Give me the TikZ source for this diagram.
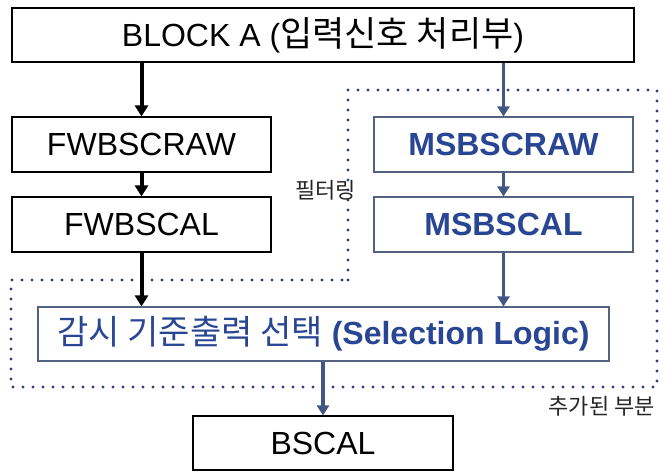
\documentclass[tikz,border=0pt]{standalone}
\usepackage{fontspec}
\setmainfont{Liberation Sans}
\newfontfamily\kr{Noto Sans CJK KR}
\usetikzlibrary{arrows.meta}
\definecolor{tblue}{RGB}{41,70,148}
\definecolor{bborder}{RGB}{84,98,130}
\definecolor{barrow}{RGB}{66,86,132}
\definecolor{dotc}{RGB}{47,64,128}
\begin{document}
\begin{tikzpicture}[x=1pt,y=-1pt,
  box/.style={draw=black, line width=1.1pt, inner sep=0pt, font=\fontsize{32}{38}\selectfont},
  bluebox/.style={box, draw=bborder, text=tblue},
  karrow/.style={draw=black, line width=4pt, -{Triangle[width=13pt,length=11pt]}},
  barr/.style={draw=barrow, line width=3.8pt, -{Triangle[width=12pt,length=10pt]}},
  dotline/.style={draw=dotc, line width=3.2pt, line cap=round, dash pattern=on 0pt off 10pt},
  note/.style={font=\kr\fontsize{22}{25}\selectfont, text=black!85, inner sep=0pt}
]
\useasboundingbox (0,0) rectangle (662,473);

% dotted "added part" region
\coordinate (d1) at (348,280);
\coordinate (d2) at (348,90);
\coordinate (d3) at (657,90);
\coordinate (d4) at (657,387);
\coordinate (d5) at (11,387);
\coordinate (d6) at (11,280);
\draw[dotline] (d1) -- (d2) -- (d3) -- (d4) -- (d5) -- (d6) -- cycle;

% boxes
\node[box, minimum width=622pt, minimum height=54pt] (A) at (323,35) {BLOCK A ({\kr\fontsize{35}{38}\selectfont 입력신호 처리부})};
\node[box, minimum width=259pt, minimum height=55pt] (FWR) at (141.5,144.5) {FWBSCRAW};
\node[box, minimum width=259pt, minimum height=55pt] (FWC) at (141.5,224.5) {FWBSCAL};
\node[bluebox, minimum width=259pt, minimum height=55pt, font=\fontsize{32}{38}\selectfont\bfseries] (MSR) at (503.5,144.5) {MSBSCRAW};
\node[bluebox, minimum width=259pt, minimum height=55pt, font=\fontsize{32}{38}\selectfont\bfseries] (MSC) at (503.5,224.5) {MSBSCAL};
\node[bluebox, minimum width=571pt, minimum height=54pt] (SEL) at (323.5,334) {{\kr\fontsize{34}{38}\selectfont 감시 기준출력 선택} {\bfseries (Selection Logic)}};
\node[box, minimum width=260pt, minimum height=54pt] (BS) at (323,443) {BSCAL};

% notes
\node[note, anchor=east] (filt) at (356,190) {필터링};
\node[note, anchor=east] (added) at (655,406) {추가된 부분};

% arrows
\draw[karrow] (FWR.north |- A.south) -- (FWR.north);
\draw[barr] (MSR.north |- A.south) -- (MSR.north);
\draw[karrow] (FWR.south) -- (FWC.north);
\draw[barr] (MSR.south) -- (MSC.north);
\draw[karrow] (FWC.south) -- (SEL.north -| FWC.south);
\draw[barr] (MSC.south) -- (SEL.north -| MSC.south);
\draw[barr] (SEL.south -| BS.north) -- (BS.north);
\end{tikzpicture}
\end{document}
